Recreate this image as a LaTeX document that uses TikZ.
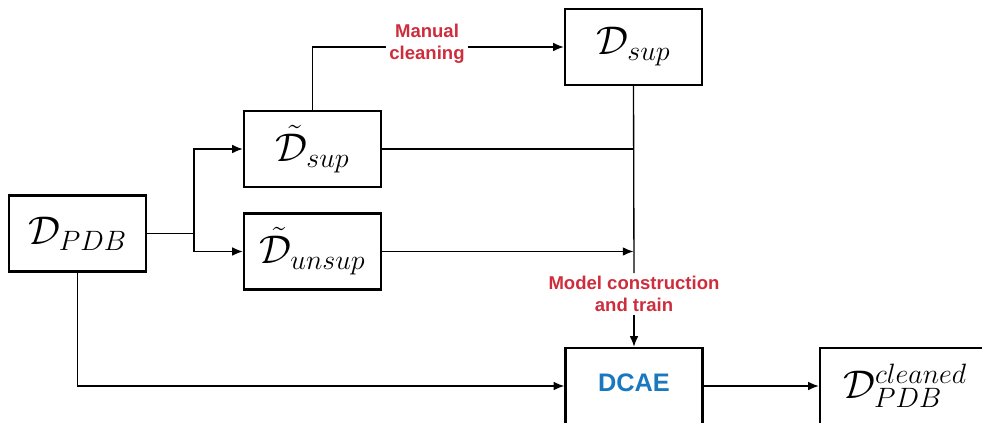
\RequirePackage{fix-cm}
\documentclass[tikz,border=0pt]{standalone}
\usepackage{fontspec}
\setsansfont{Liberation Sans}
\usetikzlibrary{arrows.meta}
\definecolor{labred}{RGB}{205,45,60}
\definecolor{dcaeblue}{RGB}{25,120,190}
\begin{document}
\begin{tikzpicture}[x=0.75pt,y=-0.75pt,
  setbox/.style={draw,line width=1.8pt,minimum width=102.75pt,minimum height=57pt,inner sep=0pt,
    font=\fontsize{30}{34}\selectfont},
  conn/.style={line width=1pt},
  arr/.style={conn,-{Latex[length=8pt,width=6.5pt]}},
  steplabel/.style={text=labred,font=\sffamily\bfseries\fontsize{13.9}{16.8}\selectfont,align=center,inner sep=2pt}]
\useasboundingbox (0,0) rectangle (982,423);
% data sets
\node[setbox] (pdb) at (77.5,233.5) {$\mathcal{D}_{PDB}$};
\node[setbox] (dts) at (312.5,149) {$\tilde{\mathcal{D}}_{sup}$};
\node[setbox] (dtu) at (312.5,251.5) {$\tilde{\mathcal{D}}_{unsup}$};
\node[setbox] (dsup) at (633.5,47) {$\mathcal{D}_{sup}$};
\node[setbox] (dcae) at (634,386) {};
\node[text=dcaeblue,font=\sffamily\bfseries\fontsize{19}{22}\selectfont] (dcaet) at (634,383) {DCAE};
\node[setbox,minimum width=127.5pt] (dcl) at (905,386) {$\mathcal{D}^{cleaned}_{PDB}$};
% step labels
\node[steplabel] (man) at (427,44) {Manual\\cleaning};
\node[steplabel] (mod) at (634,294) {Model construction\\and train};
% split of the raw set
\coordinate (j) at (194,233.5);
\draw[conn] (pdb.east) -- (j);
\draw[arr] (j) |- (dts.west);
\draw[arr] (j) |- (dtu.west);
% manual cleaning
\draw[conn] (dts.north) |- (man.west |- dsup.west);
\draw[arr] (man.east |- dsup.west) -- (dsup.west);
% merge into model construction
\draw[conn] (dsup.south) -- (mod.north);
\draw[conn] (dts.east) -- (dts.east -| dsup.south);
\draw[arr] (dtu.east) -- (dtu.east -| dsup.south);
\draw[arr] (mod.south) -- (dcae.north);
% cleaning of the full set
\draw[arr] (pdb.south) |- (dcae.west);
\draw[arr] (dcae.east) -- (dcl.west);
\end{tikzpicture}
\end{document}
